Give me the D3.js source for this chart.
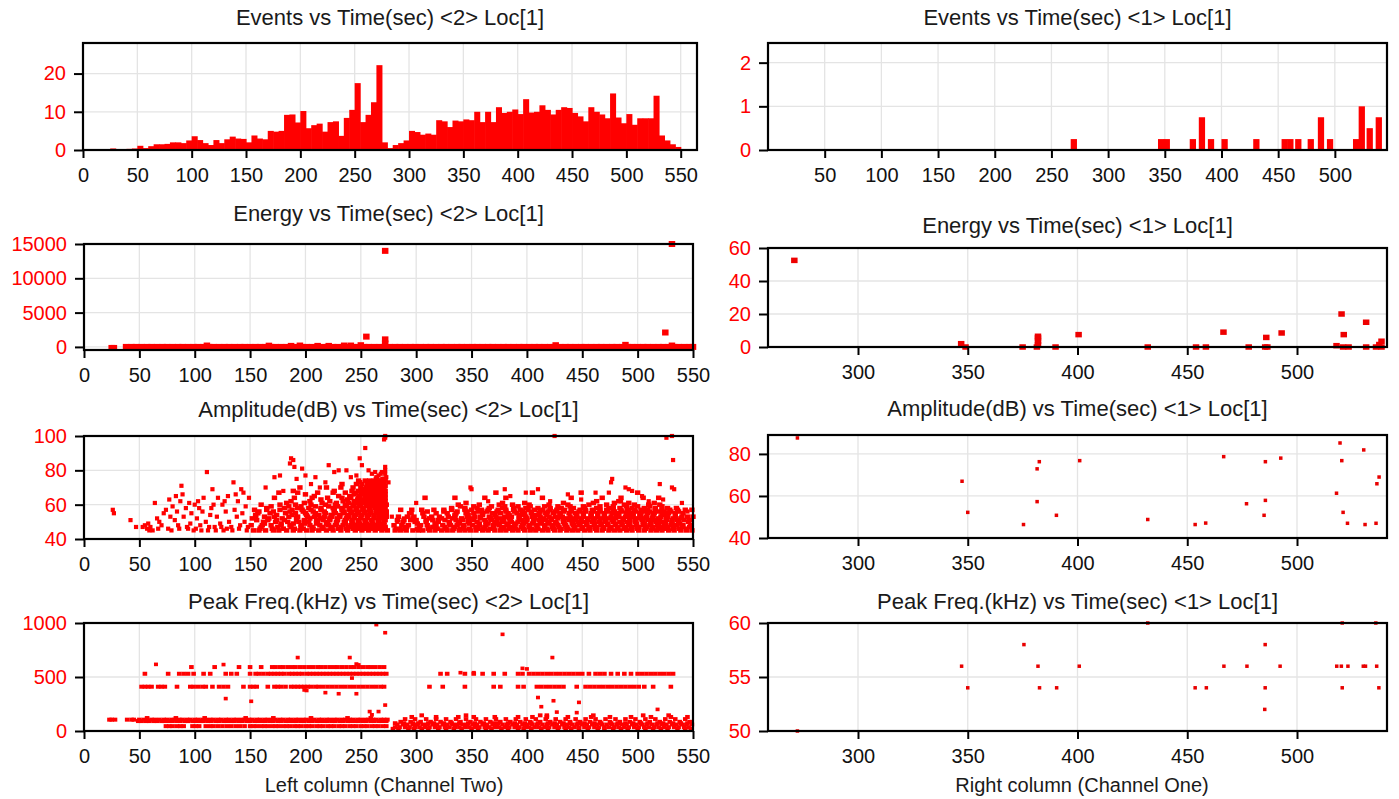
<!DOCTYPE html>
<html>
<head>
<meta charset="utf-8">
<title>AE hits vs time, two channels</title>
<script src="https://cdn.jsdelivr.net/npm/d3@7/dist/d3.min.js"></script>
<style>
  body { margin: 0; background: #fff; }
  text { font-family: "Liberation Sans", Arial, Helvetica, sans-serif; }
</style>
</head>
<body>
<div id="vis"></div>
<script>
/* ---------- data ---------- */

// tick labels
var leftTimeTicks = [0, 50, 100, 150, 200, 250, 300, 350, 400, 450, 500, 550];
var rightTimeTicksTop = [50, 100, 150, 200, 250, 300, 350, 400, 450, 500];
var rightTimeTicks = [300, 350, 400, 450, 500];
var evt2Ticks = [0, 10, 20], evt1Ticks = [0, 1, 2];
var energy2Ticks = [0, 5000, 10000, 15000], energy1Ticks = [0, 20, 40, 60];
var amp2Ticks = [40, 60, 80, 100], amp1Ticks = [40, 60, 80];
var pf2Ticks = [0, 500, 1000], pf1Ticks = [50, 55, 60];

// events histogram, channel 2 (5 s bins)
var evt2Bins = [0,5,10,15,20,25,30,35,40,45,50,55,60,65,70,75,80,85,90,95,100,105,110,115,120,125,130,135,140,145,
  150,155,160,165,170,175,180,185,190,195,200,205,210,215,220,225,230,235,240,245,250,255,260,265,270,275,280,285,290,295,
  300,305,310,315,320,325,330,335,340,345,350,355,360,365,370,375,380,385,390,395,400,405,410,415,420,425,430,435,440,445,
  450,455,460,465,470,475,480,485,490,495,500,505,510,515,520,525,530,535,540,545,550];
var evt2Counts = [0,0,0,0,0,0.4,0.2,0,0.3,0.4,1.1,0.5,1.0,1.5,1.5,1.6,2.0,2.0,1.8,2.5,3.6,2.6,1.8,1.3,2.6,1.8,2.8,3.5,3.0,2.9,
  2.0,3.8,3.0,2.8,5.0,4.8,5.0,9.2,9.3,7.2,10.2,5.7,6.5,6.9,4.8,7.3,7.5,3.7,8.4,10.5,17.5,7.3,9.2,12.5,22.2,2.0,0.5,1.3,1.8,2.5,
  5.0,4.7,4.0,4.3,4.0,7.8,7.5,6.0,7.7,7.5,8.0,7.8,10.0,7.3,10.0,7.3,11.2,9.7,10.0,10.6,9.4,13.3,9.8,10.0,11.7,10.5,9.3,10.5,11.2,11.0,
  9.7,8.8,7.5,11.2,10.0,9.3,8.3,14.8,8.5,7.0,9.4,6.6,8.3,8.3,8.3,14.2,3.8,2.5,1.5,0.8,0];

// events histogram, channel 1
var evt1Bins = [267,344,349,372,380,388,400,428,453,458,465,476,485,493,516,521,528,536];
var evt1Counts = [0.25,0.25,0.25,0.25,0.75,0.25,0.25,0.25,0.25,0.25,0.25,0.25,0.75,0.25,0.25,1.0,0.5,0.75];

// energy, channel 2: the near-zero band (times) and the hits that stand out
var energy2Band = [38,43,47,52,57,61,66,71,75,80,85,89,94,99,103,108,113,117,122,127,131,136,141,145,150,155,159,164,169,173,
  178,183,187,192,197,201,206,211,215,220,225,229,234,239,243,248,253,257,262,267,271,276,281,285,290,295,299,304,309,313,
  318,323,327,332,337,341,346,351,355,360,365,369,374,379,383,388,393,397,402,407,411,416,421,425,430,435,439,444,449,453,
  458,463,467,472,477,481,486,491,495,500,505,509,514,519,523,528,533,537,542,547,550];
var energy2Hits = [[25,-150],[27,-150],[111,200],[167,180],[187,150],[195,200],[211,150],[221,150],[235,200],[241,200],
  [250,250],[255,1500],[272,14000],[272,1100],[272,500],[426,250],[489,300],[525,2100],[531,15000],[531,200]];

// energy, channel 1
var energy1Hits = [[271,52.5],[347,2],[349,0],[375,0],[381.5,0],[382,1.5],[382,3.5],[382,5.5],[382,6.5],[390,0],[400.5,7.5],
  [432,0],[454,0],[458.5,0],[466.5,9],[478,0],[485.5,0],[486,5.8],[486.5,0],[493,8.5],[518,0.8],[520.3,20],[521.3,7.5],
  [521,0],[523.5,0],[531.5,15],[531.5,0],[536,0],[537.5,1.5],[538.5,3.5],[538.5,0]];

// amplitude (dB), channel 2: dense rows [dB, times] plus scattered hits
var amp2Rows = [
  [45, [153,158,164,171,176,183,189,195,201,206,212,219,225,232,238,245,251,257,263,269,274,281,286,291,297,302,306,312,317,323,328,333,339,344,349,354,360,365,371,376,381,387,392,398,403,408,414,419,425,430,436,441,446,452,457,463,468,474,479,484,490,495,501,506,512,517,522,528,533,539,544,549]],
  [51, [156,166,174,181,192,199,210,216,222,229,236,242,248,254,260,266,272,283,289,295,300,309,315,320,326,336,342,347,352,362,368,373,379,385,395,400,406,411,417,422,433,438,444,449,455,460,466,471,477,487,493,498,504,510,515,520,526,531,536,542,547]],
  [48, [151,161,169,178,186,196,204,213,221,227,234,241,247,253,259,265,271,280,287,293,304,310,318,324,331,337,343,351,357,363,370,375,383,389,396,402,409,416,423,428,435,442,447,454,461,467,473,480,486,492,499,505,511,518,524,530,535,541,548]],
  [53, [155,163,172,185,193,202,208,217,224,231,239,244,250,256,262,268,273,284,292,298,307,314,321,329,335,346,353,358,366,372,380,386,393,399,405,412,420,426,432,439,445,451,458,464,470,476,483,489,496,502,508,514,521,527,534,540,545,550]],
  [46, [159,170,180,190,198,207,215,223,230,237,243,249,255,261,267,272,282,290,301,311,319,327,334,340,348,356,361,367,377,384,390,397,404,410,418,424,431,437,443,450,456,462,469,475,482,488,494,500,507,513,519,525,532,538,544]],
  [57, [154,165,177,188,197,205,214,226,233,240,246,252,258,264,270,286,296,305,316,325,332,344,350,359,365,374,381,388,394,401,407,414,421,427,434,440,448,453,459,466,472,478,485,491,497,503,509,516,522,529,536,543,549]],
  [50, [162,173,184,194,203,211,220,228,235,242,248,254,260,266,271,288,299,309,320,330,338,347,355,363,371,378,386,392,399,406,413,419,426,433,441,446,452,459,465,471,478,484,491,498,505,512,517,523,531,537,546]],
  [55, [157,168,182,191,200,209,218,227,234,241,247,253,259,264,270,273,294,306,318,328,336,345,352,360,369,376,383,391,398,404,411,417,424,430,438,444,451,458,464,470,477,483,490,496,502,509,515,522,528,534,541]],
  [47, [160,175,187,196,206,216,224,232,239,245,251,257,263,268,272,291,303,315,326,335,343,354,362,370,379,387,395,402,409,416,423,429,436,443,450,457,463,469,476,482,489,495,501,508,514,521,527,533,540,547]],
  [52, [152,167,179,192,204,213,222,229,237,244,250,256,262,267,271,297,312,323,333,341,350,358,367,376,384,393,400,407,415,422,428,435,442,449,455,461,468,474,480,487,493,500,506,513,519,526,532,539]],
  [49, [163,178,189,199,210,219,228,236,243,249,255,261,266,270,301,317,330,339,348,357,365,374,382,390,397,405,412,420,427,434,441,448,454,461,467,473,480,486,493,499,506,512,519,525,531,538]],
  [56, [158,171,186,198,207,217,226,235,242,248,254,259,265,269,273,310,325,337,346,356,364,373,381,389,396,404,412,419,426,433,440,447,453,460,466,473,479,486,492,498,505,511,518,524,530,537]],
  [58, [165,181,193,203,214,225,233,240,246,252,258,263,268,272,332,344,355,366,378,388,399,410,421,431,442,452,463,474,484,495,506,516,527,535]],
  [54, [155,174,188,201,212,223,231,238,245,251,257,262,267,271,335,347,360,371,384,395,408,418,430,445,458,470,481,492,503,514,525]],
  [59, [169,185,196,209,221,229,237,244,250,256,261,266,270,340,352,368,380,392,403,416,428,439,451,466,478,490,500,511,522]],
  [60, [160,177,191,205,218,227,236,243,249,255,260,265,269,273,338,357,375,387,402,420,437,456,472,488,497,510,520]],
  [64, [172,190,206,220,233,241,248,254,259,264,268,272,308,335,362,381,414,440,468,485,505,519]],
  [61, [183,199,215,228,239,247,253,258,263,267,271,345,378,398,433,460,479,492,515]],
  [67, [176,193,211,225,236,245,252,257,262,266,270,372,405,449,500]],
  [62, [187,204,222,234,244,251,256,261,265,269,272,463,483]],
  [70, [195,219,232,243,250,255,260,264,268,271]],
  [65, [208,230,240,249,254,259,263,267,270]],
  [68, [189,226,242,248,253,258,262,266,269,272]],
  [63, [214,238,247,252,257,261,265,268,271]],
  [72, [233,246,251,256,260,264,267,270]],
  [66, [200,244,250,255,259,263,266,269,272]],
  [74, [248,254,258,262,265,268,271]],
  [69, [252,257,261,264,267,270]],
  [71, [256,260,263,266,269,272]],
  [73, [249,259,262,265,268,271]],
  [75, [264,270,272]]
];
var amp2Hits = [[26,57],[27,55],[42,51],[47,47],[53,47],[55,48],[57,46],[58,49],[59,45],[60,47],[62,45],[64,61],[66,52],
  [67,46],[68,50],[70,48],[72,55],[74,57],[76,46],[77,63],[78,53],[79,45],[80,59],[82,51],[83,65],[84,56],[85,48],[86,46],
  [87,62],[88,71],[89,66],[90,53],[92,58],[93,47],[94,46],[95,61],[96,49],[97,55],[99,45],[100,60],[101,46],[102,52],
  [103,62],[104,58],[105,48],[106,45],[107,56],[108,64],[110,50],[111,79],[112,45],[113,47],[114,54],[115,58],[116,69],
  [117,60],[118,47],[119,45],[120,53],[121,64],[123,49],[124,47],[125,60],[126,45],[127,62],[128,56],[129,46],[130,65],
  [131,50],[133,47],[134,45],[135,73],[136,57],[137,66],[138,53],[139,62],[140,46],[141,48],[142,69],[143,55],[144,67],
  [145,50],[146,59],[147,45],[148,47],[149,64],
  [164,70],[172,76],[177,77],[180,68],[186,84],[187,87],[189,86],[190,82],[192,75],[197,81],[200,77],[205,72],[209,76],
  [213,70],[218,73],[221,83],[226,79],[230,80],[237,80],[241,76],[246,77],[249,87],[251,83],[254,93],[257,80],[260,78],
  [263,79],[264,76],[266,77],[267,74],[268,78],[269,79],[272,82],[272,80],[272,78],[271,98],[272,99],[272,100],[273,76],
  [275,73],[278,53],[280,48],[283,50],[286,46],[289,52],[292,47],[296,55],[300,61],
  [349,70],[350,69],[365,62],[380,69],[385,65],[399,67],[410,69],[421,62],[425,100],[437,66],[449,63],[462,67],[474,67],
  [476,73],[477,75],[485,62],[489,70],[492,69],[495,68],[504,65],[510,62],[520,72],[523,63],[526,99],[531,100],[532,86],
  [531,70],[533,69],[540,61],[545,56],[548,48]];

// amplitude (dB), channel 1
var amp1Hits = [[272.4,87.6],[347.4,67],[350,52.2],[375.4,46.4],[381.6,72.9],[382.6,76.3],[381.6,57.3],[390.4,50.8],
  [401,76.8],[432,48.8],[453.6,46.4],[458.4,47.1],[466.6,78.7],[477,56.3],[485,50.8],[485.6,76.3],[485.6,57.9],[492.6,78],
  [518,61.3],[519.6,85.2],[520.4,76.8],[521,52.2],[523,47],[530.4,81.9],[531,46.4],[536,47],[536.4,65.8],[537.4,69]];

// peak frequency (kHz), channel 2: rows [kHz, times] plus scattered hits
var pf2Rows = [
  [20, [279,284,293,298,305,311,320,327,334,341,350,356,363,368,377,383,392,397,404,413,419,428,435,440,447,455,464,470,478,485,491,500,507,514,521,527,536,543,548]],
  [35, [281,285,290,294,299,303,308,312,317,321,326,330,335,339,344,348,353,357,362,366,371,375,380,384,389,393,398,402,407,411,416,420,425,429,434,438,443,447,452,456,461,465,470,474,479,483,488,492,497,501,506,510,515,519,524,528,533,537,542,546]],
  [45, [74,77,80,84,87,90,98,101,104,110,114,117,121,125,129,133,137,141,145,150,153,156,160,163,166,170,173,176,180,183,186,190,193,196,200,203,206,210,213,216,220,223,226,230,233,236,240,243,246,250,253,256,260,263,266,270,273]],
  [60, [283,288,292,297,301,306,310,315,319,324,328,333,337,342,346,351,355,360,364,369,373,378,382,387,391,396,400,405,409,414,418,423,427,432,436,441,445,450,454,459,463,468,472,477,481,486,490,495,499,504,508,513,517,522,526,531,535,540,544,549]],
  [72, [281,289,297,302,311,316,325,332,339,347,353,361,370,374,383,389,398,404,410,419,425,433,439,446,452,461,467,476,482,489,496,503,509,518,523,532,539,545]],
  [85, [286,295,304,313,322,331,340,349,358,367,376,385,394,403,412,421,430,439,448,457,466,475,484,493,502,511,520,529,538,547]],
  [92, [49,52,56,59,63,66,70,73,77,80,84,87,91,94,98,101,105,108,112,115,119,122,126,129,133,136,140,143,147,150,154,157,161,164,168,171,175,178,182,185,189,192,196,199,203,206,210,213,217,220,224,227,231,234,238,241,245,248,252,255,259,262,266,269,273]],
  [105, [23,25,28,39,43,45,50,54,57,61,64,68,72,75,79,82,86,89,93,96,100,103,107,110,114,117,121,124,128,131,135,138,142,145,149,152,156,159,163,166,170,173,177,180,184,187,191,194,198,201,205,208,212,215,219,222,226,229,233,236,240,243,247,250,254,257,261,264,268,271,274]],
  [110, [290,299,309,318,327,336,345,354,363,372,381,390,399,408,417,426,435,444,453,462,471,480,489,498,507,516,525,534,543]],
  [120, [57,83,109,146,171,205,238,259]],
  [130, [296,318,338,352,371,392,405,418,437,458,475,494,512,530,545]],
  [145, [305,345,412,418,460,505,528]],
  [410, [52,55,58,61,67,70,73,84,96,99,103,107,110,116,122,126,130,144,150,153,156,166,172,175,178,182,187,190,193,196,199,202,205,209,212,216,220,224,228,232,236,240,244,248,252,256,260,264,268,271,312,324,344,370,376,392,397,409,413,417,421,425,429,433,445,453,457,461,465,469,473,477,481,485,489,493,497,501,506,514,530]],
  [530, [55,76,86,90,94,99,108,114,128,133,138,150,155,158,162,166,169,172,175,178,181,185,188,191,194,197,201,204,207,210,213,216,219,222,225,228,231,234,237,240,243,246,249,252,255,258,261,264,267,270,273,322,328,344,352,360,370,380,392,396,402,406,410,414,418,422,426,430,434,438,442,446,450,456,462,466,470,476,482,488,494,500,504,508,512,516,520,524,528,532]],
  [592, [97,118,140,150,160,170,173,177,180,184,188,191,195,199,203,207,211,214,218,222,226,229,233,237,241,244,248,252,256,259,263,267,271]]
];
var pf2Hits = [[264,985],[272,910],[378,895],[193,680],[240,680],[423,680],[410,310],[413,225],[424,280],[427,175],
  [447,265],[445,170],[518,200],[128,300],[151,275],[218,355],[230,345],[246,345],[199,380],[201,375],[242,490],
  [272,240],[258,180],[266,180],[260,150],[65,617],[126,615],[248,612],[246,620],[400,575],[396,580],[352,540],[340,540]];

// peak frequency (kHz), channel 1
var pf1Hits = [[272.4,50],[347.2,56],[350,54],[375.6,58],[382,56],[382.7,54],[390.5,54],[400.8,56],[432,60],[453.6,54],
  [458.7,54],[466.7,56],[477.2,56],[485.5,58],[485.5,54],[485.3,52],[492.3,56],[518.1,56],[520.2,56],[520.6,60],[520.6,54],
  [523.2,56],[530.2,56],[531.2,56],[535.9,60],[536.3,56],[537.3,54]];

/* ---------- drawing ---------- */

var red = "#ff0000",
    gridColor = "#e4e4e4";

var svg = d3.select("#vis")
  .append("svg")
  .attr("width", 1399)
  .attr("height", 799);

// flatten [level, [times]] rows into [time, level] points
function fromRows(rows) {
  var out = [];
  rows.forEach(function(r) {
    r[1].forEach(function(t) { out.push([t, r[0]]); });
  });
  return out;
}

function styleAxis(axis, color) {
  axis.select(".domain").remove();
  axis.selectAll(".tick line").attr("stroke", "#000").attr("stroke-width", 2);
  axis.selectAll(".tick text").attr("fill", color).style("font-size", "20px");
}

// one framed panel with grid, axes and title; returns scales and a layer for marks
function drawPanel(p) {
  var x = d3.scaleLinear().domain(p.xDomain).range([p.box[0], p.box[1]]),
      y = d3.scaleLinear().domain(p.yDomain).range([p.box[3], p.box[2]]);

  var g = svg.append("g");

  g.selectAll(".vgrid")
    .data(p.xTicks)
    .enter().append("line")
      .attr("x1", function(d) { return x(d); })
      .attr("x2", function(d) { return x(d); })
      .attr("y1", p.box[2])
      .attr("y2", p.box[3])
      .attr("stroke", gridColor)
      .attr("stroke-width", 1.3);

  g.selectAll(".hgrid")
    .data(p.yTicks)
    .enter().append("line")
      .attr("x1", p.box[0])
      .attr("x2", p.box[1])
      .attr("y1", function(d) { return y(d); })
      .attr("y2", function(d) { return y(d); })
      .attr("stroke", gridColor)
      .attr("stroke-width", 1.3);

  var marks = g.append("g");

  // frame
  g.append("rect")
    .attr("x", p.box[0])
    .attr("y", p.box[2])
    .attr("width", p.box[1] - p.box[0])
    .attr("height", p.box[3] - p.box[2])
    .attr("fill", "none")
    .attr("stroke", "#000")
    .attr("stroke-width", 2.2);

  var xAxis = g.append("g")
    .attr("transform", "translate(0," + p.box[3] + ")")
    .call(d3.axisBottom(x).tickValues(p.xTicks).tickSize(8).tickPadding(10).tickFormat(d3.format("d")));
  styleAxis(xAxis, "#111");

  var yAxis = g.append("g")
    .attr("transform", "translate(" + p.box[0] + ",0)")
    .call(d3.axisLeft(y).tickValues(p.yTicks).tickSize(9).tickPadding(8).tickFormat(d3.format("d")));
  styleAxis(yAxis, red);

  g.append("text")
    .attr("x", (p.box[0] + p.box[1]) / 2)
    .attr("y", p.titleY)
    .attr("dy", "0.35em")
    .attr("text-anchor", "middle")
    .attr("font-size", "22px")
    .attr("fill", "#1a1a1a")
    .text(p.title);

  return {marks: marks, x: x, y: y};
}

function drawSquares(panel, pts, w, h, color) {
  panel.marks.selectAll(null)
    .data(pts)
    .enter().append("rect")
      .attr("x", function(d) { return panel.x(d[0]) - w / 2; })
      .attr("y", function(d) { return panel.y(d[1]) - h / 2; })
      .attr("width", w)
      .attr("height", h)
      .attr("fill", color);
}

function drawHistogram(panel, bins, counts, binW, lineEnd) {
  var pts = bins.map(function(b, i) { return [b, counts[i]]; });
  // red zero line under the bars
  panel.marks.append("line")
    .attr("x1", panel.x(panel.x.domain()[0]))
    .attr("x2", panel.x(lineEnd))
    .attr("y1", panel.y(0))
    .attr("y2", panel.y(0))
    .attr("stroke", red)
    .attr("stroke-width", 1.5);
  panel.marks.selectAll(null)
    .data(pts)
    .enter().append("rect")
      .attr("x", function(d) { return panel.x(d[0]); })
      .attr("y", function(d) { return panel.y(d[1]); })
      .attr("width", function(d) { return panel.x(d[0] + binW) - panel.x(d[0]) + 0.6; })
      .attr("height", function(d) { return panel.y(0) - panel.y(d[1]); })
      .attr("fill", red);
}

/* Row 1: events */
var evt2 = drawPanel({title: "Events vs Time(sec) <2> Loc[1]", titleY: 17, box: [83, 697, 43, 150],
  xDomain: [0, 565], yDomain: [0, 28], xTicks: leftTimeTicks, yTicks: evt2Ticks});
drawHistogram(evt2, evt2Bins, evt2Counts, 5, 555);

var evt1 = drawPanel({title: "Events vs Time(sec) <1> Loc[1]", titleY: 17, box: [768, 1387, 43, 150],
  xDomain: [0, 546], yDomain: [0, 2.45], xTicks: rightTimeTicksTop, yTicks: evt1Ticks});
drawHistogram(evt1, evt1Bins, evt1Counts, 5, 541);

/* Row 2: energy */
var en2 = drawPanel({title: "Energy vs Time(sec) <2> Loc[1]", titleY: 213, box: [84, 693, 244, 350],
  xDomain: [0, 550], yDomain: [-450, 15000], xTicks: leftTimeTicks, yTicks: energy2Ticks});
drawSquares(en2, energy2Band.map(function(t) { return [t, 0]; }), 6.5, 6, red);
drawSquares(en2, energy2Hits, 6.5, 6, red);

var en1 = drawPanel({title: "Energy vs Time(sec) <1> Loc[1]", titleY: 225, box: [768, 1387, 248, 347],
  xDomain: [259, 541], yDomain: [0, 60], xTicks: rightTimeTicks, yTicks: energy1Ticks});
drawSquares(en1, energy1Hits, 6.5, 5.5, "#ee0000");

/* Row 3: amplitude */
var amp2 = drawPanel({title: "Amplitude(dB) vs Time(sec) <2> Loc[1]", titleY: 409, box: [84, 693, 436, 539],
  xDomain: [0, 550], yDomain: [40, 100], xTicks: leftTimeTicks, yTicks: amp2Ticks});
// overlapping hits in the dense rows make a wider smear than single markers
drawSquares(amp2, fromRows(amp2Rows), 5.4, 4.6, red);
drawSquares(amp2, amp2Hits, 4.2, 4.2, red);

var amp1 = drawPanel({title: "Amplitude(dB) vs Time(sec) <1> Loc[1]", titleY: 408, box: [768, 1387, 435, 538],
  xDomain: [259, 541], yDomain: [40, 89], xTicks: rightTimeTicks, yTicks: amp1Ticks});
drawSquares(amp1, amp1Hits, 3.5, 3.5, "#e80000");

/* Row 4: peak frequency */
var pf2 = drawPanel({title: "Peak Freq.(kHz) vs Time(sec) <2> Loc[1]", titleY: 601, box: [84, 693, 623, 731],
  xDomain: [0, 550], yDomain: [0, 1000], xTicks: leftTimeTicks, yTicks: pf2Ticks});
drawSquares(pf2, fromRows(pf2Rows), 4.6, 4, red);
drawSquares(pf2, pf2Hits, 4, 3.6, red);

var pf1 = drawPanel({title: "Peak Freq.(kHz) vs Time(sec) <1> Loc[1]", titleY: 601, box: [768, 1387, 623, 731],
  xDomain: [259, 541], yDomain: [50, 60], xTicks: rightTimeTicks, yTicks: pf1Ticks});
drawSquares(pf1, pf1Hits, 3.5, 3.5, "#e80000");

// column captions
svg.append("text")
  .attr("x", 384).attr("y", 785).attr("dy", "0.35em")
  .attr("text-anchor", "middle").attr("font-size", "20px").attr("fill", "#1a1a1a")
  .text("Left column (Channel Two)");
svg.append("text")
  .attr("x", 1082).attr("y", 785).attr("dy", "0.35em")
  .attr("text-anchor", "middle").attr("font-size", "20px").attr("fill", "#1a1a1a")
  .text("Right column (Channel One)");
</script>
</body>
</html>
